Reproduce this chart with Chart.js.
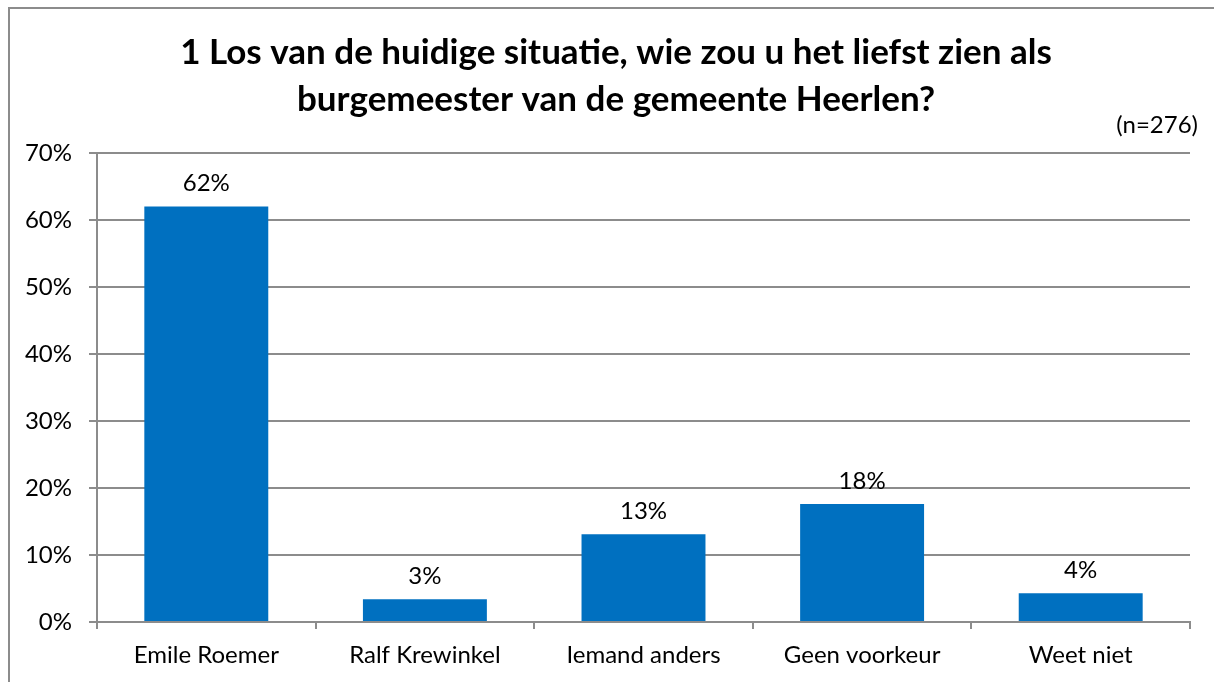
<!DOCTYPE html>
<html>
<head>
<meta charset="utf-8">
<script src="https://cdn.jsdelivr.net/npm/chart.js@4"></script>
<style>
  html, body { margin: 0; padding: 0; background: #fff; overflow: hidden; }
  #frame { position: absolute; left: 8px; top: 7px; width: 1300px; height: 800px; border: 2px solid #8c8c8c; }
  #wrap { position: absolute; left: 0; top: 0; width: 1214px; height: 682px; }
</style>
</head>
<body>
<div id="frame"></div>
<div id="wrap"><canvas id="chart"></canvas></div>
<script>
const categories = ["Emile Roemer", "Ralf Krewinkel", "Iemand anders", "Geen voorkeur", "Weet niet"];
const values = [62.0, 3.4, 13.1, 17.6, 4.3];
const yTicks = [0, 10, 20, 30, 40, 50, 60, 70];
const titleLines = ["1 Los van de huidige situatie, wie zou u het liefst zien als", "burgemeester van de gemeente Heerlen?"];
const sampleNote = "(n=276)";

const FONT = "Lato, 'Open Sans', sans-serif";
const GRID = "#8c8c8c";

// title + (n=276) drawn on the canvas
const headerPlugin = {
    id: "header",
    afterDraw(chart) {
        const ctx = chart.ctx;
        ctx.save();
        ctx.fillStyle = "#000";
        ctx.textAlign = "center";
        ctx.textBaseline = "alphabetic";
        ctx.font = "bold 35px " + FONT;
        ctx.fillText(titleLines[0], 616, 64);
        ctx.fillText(titleLines[1], 616, 111);
        ctx.font = "24px " + FONT;
        ctx.textAlign = "right";
        ctx.fillText(sampleNote, 1198, 133);
        ctx.restore();
    }
};

// percentage labels above the bars
const valueLabels = {
    id: "valueLabels",
    afterDatasetsDraw(chart) {
        const ctx = chart.ctx;
        const meta = chart.getDatasetMeta(0);
        ctx.save();
        ctx.fillStyle = "#000";
        ctx.font = "24px " + FONT;
        ctx.textAlign = "center";
        ctx.textBaseline = "middle";
        meta.data.forEach((bar, i) => {
            ctx.fillText(Math.round(values[i]) + "%", bar.x, bar.y - 23);
        });
        ctx.restore();
    }
};

new Chart(document.getElementById("chart"), {
    type: "bar",
    data: {
        labels: categories,
        datasets: [{
            data: values,
            backgroundColor: "#0070c0",
            borderWidth: 0,
            categoryPercentage: 1,
            barPercentage: 0.567
        }]
    },
    options: {
        responsive: true,
        maintainAspectRatio: false,
        animation: false,
        layout: { padding: { top: 153, right: 24, left: 0, bottom: 0 } },
        plugins: { legend: { display: false }, tooltip: { enabled: false }, title: { display: false } },
        scales: {
            x: {
                offset: true,
                grid: { offset: true, drawOnChartArea: false, drawTicks: true, tickLength: 7, color: GRID, lineWidth: 2 },
                border: { display: true, color: GRID, width: 2 },
                ticks: { color: "#000", font: { family: FONT, size: 24 }, padding: 12, maxRotation: 0 },
                afterFit(scale) { scale.height = 60; }
            },
            y: {
                min: 0,
                max: 70,
                afterBuildTicks(scale) { scale.ticks = yTicks.map(v => ({ value: v })); },
                grid: { color: GRID, lineWidth: 2, tickLength: 8 },
                border: { display: true, color: GRID, width: 2 },
                ticks: { color: "#000", font: { family: FONT, size: 24 }, padding: 17, callback: v => v + "%" },
                afterFit(scale) { scale.width = 97; }
            }
        }
    },
    plugins: [headerPlugin, valueLabels]
});
</script>
</body>
</html>
